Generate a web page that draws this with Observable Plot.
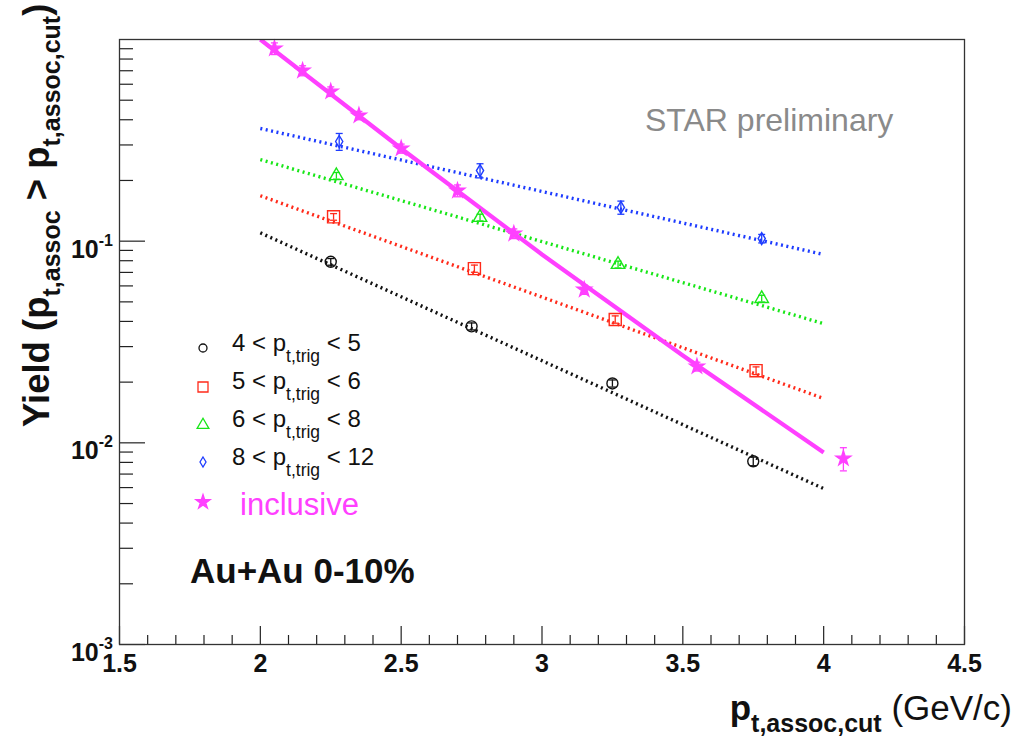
<!DOCTYPE html>
<html><head><meta charset="utf-8">
<script src="https://cdn.jsdelivr.net/npm/d3@7"></script>
<script src="https://cdn.jsdelivr.net/npm/@observablehq/plot@0.6"></script>
<style>
html,body{margin:0;padding:0;background:#fff;overflow:hidden;}
#chart svg{display:block;}
</style></head><body><div id="chart"></div>
<script>
// ---------- data ----------
const xTickValues = [1.5, 2, 2.5, 3, 3.5, 4, 4.5];
const yTickValues = [0.001, 0.01, 0.1];
const yTickExponents = ["-3", "-2", "-1"];

const fitX = [2, 4];

const blackX = [2.25, 2.75, 3.25, 3.75];
const blackY = [0.079, 0.0378, 0.0197, 0.0081];
const blackErr = [0.003, 0.0015, 0.0008, 0.0004];
const blackFit = [0.110, 0.00593];

const redX = [2.26, 2.76, 3.26, 3.76];
const redY = [0.132, 0.0731, 0.0409, 0.0228];
const redErr = [0.005, 0.003, 0.0017, 0.001];
const redFit = [0.168, 0.0166];

const greenX = [2.27, 2.78, 3.27, 3.78];
const greenY = [0.211, 0.131, 0.0766, 0.0519];
const greenErr = [0.008, 0.005, 0.003, 0.002];
const greenFit = [0.254, 0.039];

const blueX = [2.28, 2.78, 3.28, 3.78];
const blueY = [0.312, 0.224, 0.147, 0.103];
const blueErr = [0.03, 0.018, 0.011, 0.005];
const blueFit = [0.362, 0.0859];

const incX = [2.05, 2.15, 2.25, 2.35, 2.5, 2.7, 2.9, 3.15, 3.55, 4.07];
const incY = [0.902, 0.701, 0.552, 0.420, 0.288, 0.178, 0.109, 0.0575, 0.0239, 0.00836];
const incErr = [0.06, 0.04, 0.03, 0.02, 0.015, 0.012, 0.006, 0.003, 0.0012, 0.0011];
const incFitX = [2, 2.5, 3, 3.5, 4];
const incFit = [1.0, 0.288, 0.0859, 0.0271, 0.00896];

const legendLabels = ["4 < p", "5 < p", "6 < p", "8 < p"];
const legendSubs = ["t,trig", "t,trig", "t,trig", "t,trig"];
const legendTails = [" < 5", " < 6", " < 8", " < 12"];
const inclusiveLabel = "inclusive";
const systemLabel = "Au+Au 0-10%";
const watermark = "STAR preliminary";

// ---------- layout / style ----------
const W = 1016, H = 737;
const mL = 119, mR = 52, mT = 39, mB = 93;
const fw = W - mL - mR, fh = H - mT - mB;
const FONT = "'Liberation Sans', Arial, Helvetica, sans-serif";

const tallDiamond = {draw(ctx, size) {
  const r = Math.sqrt(size / Math.PI);
  ctx.moveTo(0, -r); ctx.lineTo(r * 0.6, 0); ctx.lineTo(0, r); ctx.lineTo(-r * 0.6, 0); ctx.closePath();
}};
const capSymbol = {draw(ctx, size) {
  const w = Math.sqrt(size / Math.PI);
  ctx.moveTo(-w, 0); ctx.lineTo(w, 0);
}};

const series = [
  {x: blackX, y: blackY, e: blackErr, fitX, fit: blackFit, color: "#111111", symbol: "circle", r: 5.5, fill: "none", dash: "2,3.5"},
  {x: redX, y: redY, e: redErr, fitX, fit: redFit, color: "#ff2a1a", symbol: "square", r: 6.8, fill: "none", dash: "2,3.5"},
  {x: greenX, y: greenY, e: greenErr, fitX, fit: greenFit, color: "#18e618", symbol: "triangle", r: 5, fill: "none", dash: "2,3.5"},
  {x: blueX, y: blueY, e: blueErr, fitX, fit: blueFit, color: "#1e3cff", symbol: tallDiamond, r: 6, fill: "none", dash: "2,3.5"},
  {x: incX, y: incY, e: incErr, fitX: incFitX, fit: incFit, color: "#ff40ff", symbol: "star", r: 4.6, fill: "#ff40ff", dash: null}
];

// minor ticks (axis decoration)
const xMinor = d3.range(15, 46).map(i => i / 10).filter(v => !xTickValues.some(t => Math.abs(t - v) < 1e-9));
const yMinor = yTickValues.flatMap(d => d3.range(2, 10).map(k => k * d));

const marks = [];
marks.push(Plot.tickY(yTickValues, {y: d => d, insetRight: fw - 26, stroke: "#222", strokeWidth: 1.2}));
marks.push(Plot.tickY(yMinor, {y: d => d, insetRight: fw - 14, stroke: "#222", strokeWidth: 1.2}));
marks.push(Plot.tickX(xTickValues, {x: d => d, insetTop: fh - 18, stroke: "#222", strokeWidth: 1.2}));
marks.push(Plot.tickX(xMinor, {x: d => d, insetTop: fh - 9, stroke: "#222", strokeWidth: 1.2}));
marks.push(Plot.axisX(xTickValues, {tickSize: 0, tickPadding: 10, fontSize: 25, fontWeight: "bold", fill: "#111", tickFormat: d => String(d)}));

for (const s of series) {
  const fitData = s.fitX.map((x, i) => ({x, y: s.fit[i]}));
  marks.push(Plot.line(fitData, {x: "x", y: "y", stroke: s.color, strokeWidth: s.dash ? 3.4 : 4.2, strokeDasharray: s.dash, strokeLinecap: "butt", clip: true}));
}
for (const s of series) {
  const pts = s.x.map((x, i) => ({x, y: s.y[i], lo: s.y[i] - s.e[i], hi: s.y[i] + s.e[i]}));
  marks.push(Plot.ruleX(pts, {x: "x", y1: "lo", y2: "hi", stroke: s.color, strokeWidth: 1.3}));
  marks.push(Plot.dot(pts, {x: "x", y: "lo", symbol: capSymbol, r: 3.5, stroke: s.color, strokeWidth: 1.3}));
  marks.push(Plot.dot(pts, {x: "x", y: "hi", symbol: capSymbol, r: 3.5, stroke: s.color, strokeWidth: 1.3}));
  marks.push(Plot.dot(pts, {x: "x", y: "y", symbol: s.symbol, r: s.r, stroke: s.color, fill: s.fill, strokeWidth: 1.4}));
}
marks.push(Plot.frame({stroke: "#333", strokeWidth: 1.3}));

const plot = Plot.plot({
  width: W, height: H,
  marginLeft: mL, marginRight: mR, marginTop: mT, marginBottom: mB,
  style: {fontFamily: FONT, background: "#fff"},
  x: {domain: [1.5, 4.5], axis: null, label: null},
  y: {type: "log", domain: [0.001, 1], axis: null, label: null},
  marks
});
document.getElementById("chart").appendChild(plot);

// ---------- rich text ----------
const svg = d3.select(plot);
const sy = plot.scale("y");

function txt(x, y, anchor) {
  return svg.append("text").attr("x", x).attr("y", y).attr("text-anchor", anchor)
    .attr("font-family", FONT).attr("fill", "#111");
}

// y tick labels 10^n
yTickValues.forEach((v, i) => {
  const py = sy.apply(v);
  const t = txt(113, py + 17, "end").attr("font-weight", "bold");
  t.append("tspan").attr("font-size", 25).text("10");
  t.append("tspan").attr("font-size", 16).attr("dy", -12).text(yTickExponents[i]);
});

// y title
{
  const t = svg.append("text").attr("transform", "translate(49,427) rotate(-90)").attr("text-anchor", "start")
    .attr("font-family", FONT).attr("font-weight", "bold").attr("fill", "#111").attr("font-size", 36.5);
  t.append("tspan").text("Yield (p");
  t.append("tspan").attr("font-size", 25).attr("dy", 11).text("t,assoc");
  t.append("tspan").attr("dy", -11).text(" > p");
  t.append("tspan").attr("font-size", 25).attr("dy", 11).text("t,assoc,cut");
  t.append("tspan").attr("dy", -11).text(")");
}

// x title
{
  const t = txt(1012, 720, "end").attr("font-size", 35);
  t.append("tspan").attr("font-weight", "bold").text("p");
  t.append("tspan").attr("font-weight", "bold").attr("font-size", 25).attr("dy", 12).text("t,assoc,cut");
  t.append("tspan").attr("dy", -12).text(" (GeV/c)");
}

// legend
const legendMarkerX = 203;
const legendRowY = [348, 387, 425, 462, 502];
const legendBase = [351, 389, 427, 465, 515];
const legendMarkers = [
  {sym: d3.symbolCircle, size: Math.PI * 16},
  {sym: d3.symbolSquare, size: 100},
  {sym: d3.symbolTriangle, size: 60},
  {sym: tallDiamond, size: Math.PI * 25},
  {sym: d3.symbolStar, size: Math.PI * 20}
];
series.forEach((s, i) => {
  svg.append("path")
    .attr("transform", `translate(${legendMarkerX},${legendRowY[i]})`)
    .attr("d", d3.symbol(legendMarkers[i].sym, legendMarkers[i].size)())
    .attr("fill", s.fill).attr("stroke", s.color).attr("stroke-width", 1.3);
});
legendLabels.forEach((lab, i) => {
  const t = txt(232, legendBase[i], "start").attr("font-size", 24);
  t.append("tspan").text(lab);
  t.append("tspan").attr("font-size", 17.5).attr("dy", 11).text(legendSubs[i]);
  t.append("tspan").attr("dy", -11).text(legendTails[i]);
});
txt(240, legendBase[4], "start").attr("font-size", 31).attr("fill", series[4].color).text(inclusiveLabel);

// annotations
txt(190, 583, "start").attr("font-weight", "bold").attr("font-size", 35).text(systemLabel);
txt(645, 131, "start").attr("font-size", 32).attr("fill", "#8a8a8a").text(watermark);
</script>
</body></html>
